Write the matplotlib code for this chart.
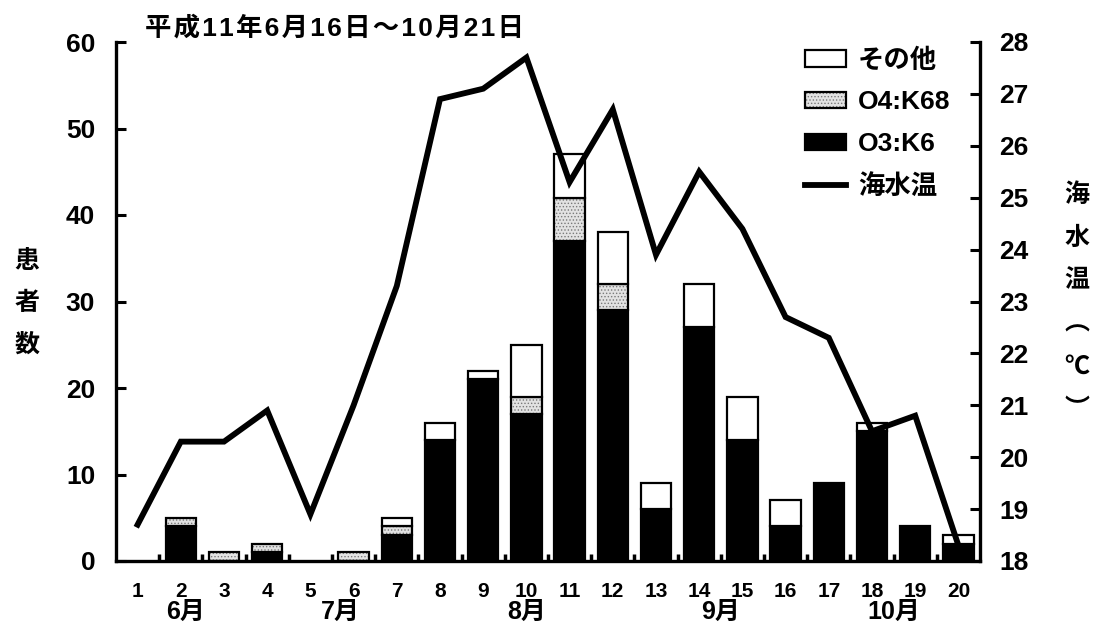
import matplotlib.pyplot as plt
import matplotlib.transforms as mtransforms
from matplotlib.patches import Patch
from matplotlib.lines import Line2D
import numpy as np

plt.rcParams['font.family'] = ['Liberation Sans', 'Noto Sans CJK JP', 'DejaVu Sans']
plt.rcParams['font.weight'] = 'bold'
plt.rcParams['hatch.linewidth'] = 0.6

# 週番号 (6/16 ~ 10/21)
weeks = list(range(1, 21))
# 患者数
k6 = [0, 4, 0, 1, 0, 0, 3, 14, 21, 17, 37, 29, 6, 27, 14, 4, 9, 15, 4, 2]
k68 = [0, 1, 1, 1, 0, 1, 1, 0, 0, 2, 5, 3, 0, 0, 0, 0, 0, 0, 0, 0]
other = [0, 0, 0, 0, 0, 0, 1, 2, 1, 6, 5, 6, 3, 5, 5, 3, 0, 1, 0, 1]
# 海水温 (℃)
sea_temp = [18.7, 20.3, 20.3, 20.9, 18.9, 21.0, 23.3, 26.9, 27.1, 27.7,
            25.3, 26.7, 23.9, 25.5, 24.4, 22.7, 22.3, 20.5, 20.8, 18.3]
months = ['6月', '7月', '8月', '9月', '10月']
month_pos = [2.1, 5.7, 10, 14.5, 18.5]
title = '平成11年6月16日～10月21日'

fig = plt.figure(figsize=(10.98, 6.35), dpi=100)
ax = fig.add_axes([116 / 1098, 74 / 635, 864 / 1098, 519 / 635])
ax2 = ax.twinx()

x = np.array(weeks)
k6 = np.array(k6)
k68 = np.array(k68)
other = np.array(other)
w = 0.7
lw = 1.6

m = k6 > 0
ax.bar(x[m], k6[m], w, color='black', edgecolor='black', linewidth=lw)
m = k68 > 0
ax.bar(x[m], k68[m], w, bottom=k6[m], color='#e2e2e2', edgecolor='#7a7a7a',
       hatch='.....', linewidth=0)
ax.bar(x[m], k68[m], w, bottom=k6[m], fill=False, edgecolor='black', linewidth=lw)
m = other > 0
ax.bar(x[m], other[m], w, bottom=(k6 + k68)[m], color='white',
       edgecolor='black', linewidth=lw)

ax2.plot(x, sea_temp, color='black', lw=4.2, solid_joinstyle='miter')

# 軸
ax.set_xlim(0.5, 20.5)
ax.set_ylim(0, 60)
ax2.set_ylim(18, 28)
ax.set_xticks(x)
ax.set_xticklabels([str(i) for i in weeks])
ax.set_xticks(np.arange(1.5, 20, 1), minor=True)
ax.tick_params(axis='x', which='major', length=0, pad=15, labelsize=15)
ax.tick_params(axis='x', which='minor', direction='in', length=5, width=2.5)
ax.set_yticks(range(0, 61, 10))
ax.tick_params(axis='y', direction='in', length=7, width=2.2, pad=15, labelsize=19)
ax2.set_yticks(range(18, 29))
ax2.tick_params(axis='y', direction='in', length=7, width=2.2, pad=14, labelsize=19)

for a in (ax, ax2):
    a.spines['top'].set_visible(False)
    for s in a.spines.values():
        s.set_linewidth(2.4)
ax.spines['right'].set_visible(False)
ax2.spines['left'].set_visible(False)
ax2.spines['bottom'].set_visible(False)

trans = mtransforms.blended_transform_factory(ax.transData, ax.transAxes)
for pos, lab in zip(month_pos, months):
    ax.text(pos, -0.099, lab, transform=trans, ha='center', va='center', fontsize=18)

# 字間を少し空ける (hair space)
fig.text(145 / 1098, 1 - 28 / 635, '\u200a'.join(title), fontsize=19,
         ha='left', va='center')
fig.text(27 / 1098, 1 - 303 / 635, '患\n者\n数', fontsize=18, ha='center',
         va='center', linespacing=1.95)
fig.text(1077 / 1098, 1 - 302 / 635, '海\n水\n温\n︵\n℃\n︶', fontsize=18,
         ha='center', va='center', linespacing=2.0)

# 凡例
stipple = (Patch(facecolor='#e2e2e2', edgecolor='#7a7a7a', hatch='.....', linewidth=0),
           Patch(fill=False, edgecolor='black', linewidth=lw))
handles = [Patch(facecolor='white', edgecolor='black', linewidth=lw),
           stipple,
           Patch(facecolor='black', edgecolor='black', linewidth=lw),
           Line2D([], [], color='black', lw=4.2)]
labels = ['その他', 'O4:K68', 'O3:K6', '海水温']
ax2.legend(handles, labels, loc='upper left', bbox_to_anchor=(805 / 1098, 1 - 48 / 635),
           bbox_transform=fig.transFigure, frameon=False, fontsize=19,
           handlelength=1.55, handleheight=0.6, handletextpad=0.45,
           labelspacing=0.68, borderpad=0, borderaxespad=0)

fig.savefig('out.png', dpi=100)
